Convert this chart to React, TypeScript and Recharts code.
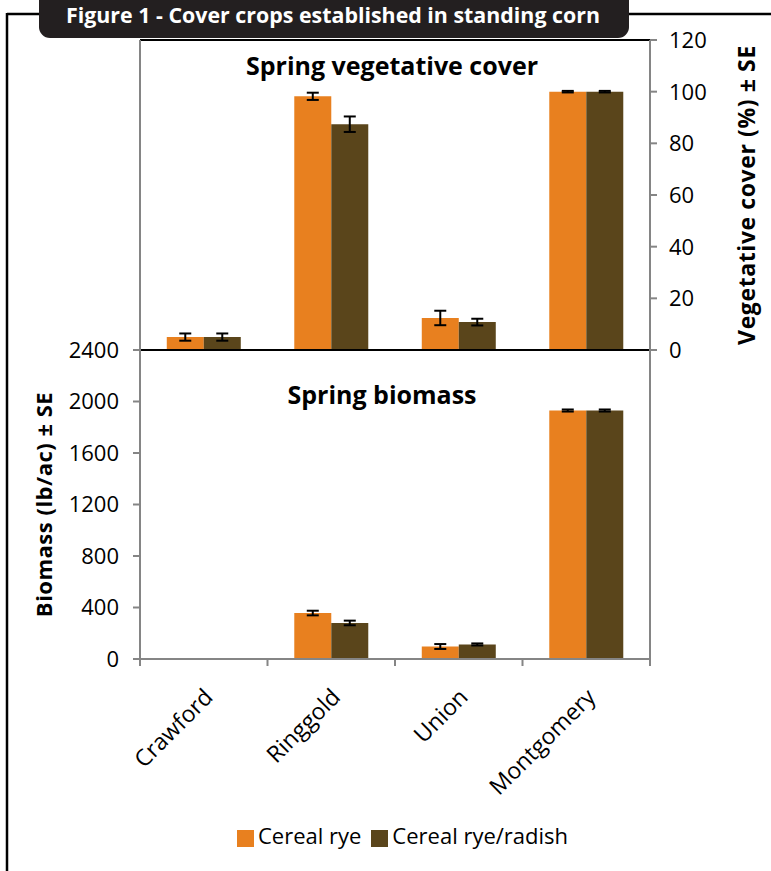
import React from "react";
import { BarChart, Bar, XAxis, YAxis, ErrorBar, Legend } from "recharts";

// Sites and cover crop results (spring after corn)
const sites = ["Crawford", "Ringgold", "Union", "Montgomery"];

const coverRye = [5, 98.2, 12.4, 100];
const coverRyeSE = [1.4, 1.4, 2.8, 0.3];
const coverMix = [5, 87.4, 10.8, 100];
const coverMixSE = [1.4, 3.0, 1.3, 0.3];

const biomassRye = [null, 357, 97, 1930];
const biomassRyeSE = [null, 18, 19, 8];
const biomassMix = [null, 280, 113, 1930];
const biomassMixSE = [null, 18, 8, 8];

const coverTicks = [0, 20, 40, 60, 80, 100, 120];
const biomassTicks = [0, 400, 800, 1200, 1600, 2000, 2400];

const seriesNames = ["Cereal rye", "Cereal rye/radish"];

const coverData = sites.map((site, i) => ({
  site,
  rye: coverRye[i],
  ryeSE: coverRyeSE[i],
  mix: coverMix[i],
  mixSE: coverMixSE[i],
}));

const biomassData = sites.map((site, i) => ({
  site,
  rye: biomassRye[i],
  ryeSE: biomassRyeSE[i],
  mix: biomassMix[i],
  mixSE: biomassMixSE[i],
}));

const ORANGE = "#E8801F";
const BROWN = "#5A451B";
const GRAY = "#858585";
const FONT = "'Open Sans', 'DejaVu Sans', sans-serif";

const TICK_LEN = 7;
const axisStroke = { stroke: GRAY, strokeWidth: 2 };
const titleStyle = { fontWeight: "bold", fill: "#000", fontFamily: FONT, textAnchor: "middle" } as const;

// y tick: short gray mark outside the axis line, optional label
const makeYTick = (side: "left" | "right", showLabel: boolean, margin: number) => (props: any) => {
  const { x, y, payload } = props;
  const x1 = side === "left" ? x + margin : x - margin - TICK_LEN;
  return (
    <g>
      <line x1={x1} y1={y} x2={x1 + TICK_LEN} y2={y} stroke={GRAY} strokeWidth={2} />
      {showLabel && (
        <text
          x={x}
          y={y}
          dy="0.36em"
          textAnchor={side === "left" ? "end" : "start"}
          fontSize={22}
          fontFamily={FONT}
          fill="#000"
        >
          {payload.value}
        </text>
      )}
    </g>
  );
};

// site label rotated 45deg, plus tick marks on the category boundaries
const SiteTick = (props: any) => {
  const { x, y, payload, index, visibleTicksCount } = props;
  const half = payload?.offset ?? 0;
  const axisY = y - 6;
  const last = index === visibleTicksCount - 1;
  return (
    <g>
      <line x1={x - half} y1={axisY} x2={x - half} y2={axisY + TICK_LEN} stroke={GRAY} strokeWidth={2} />
      {last && <line x1={x + half} y1={axisY} x2={x + half} y2={axisY + TICK_LEN} stroke={GRAY} strokeWidth={2} />}
      <g transform={`translate(${x - 1},${axisY + 28})`}>
        <text transform="rotate(-45)" textAnchor="end" dy="0.71em" fontSize={23} fontFamily={FONT} fill="#000">
          {payload.value}
        </text>
      </g>
    </g>
  );
};

const noLabel = () => <g />;

export default function App() {
  return (
    <div
      style={{
        position: "absolute",
        left: 0,
        top: 0,
        width: 771,
        height: 871,
        background: "#fff",
        fontFamily: FONT,
        overflow: "hidden",
      }}
    >
      {/* frame and figure tab */}
      <svg width={771} height={871} style={{ position: "absolute", left: 0, top: 0 }}>
        <line x1={7} y1={14} x2={771} y2={14} stroke="#000" strokeWidth={2.5} />
        <line x1={7} y1={13} x2={7} y2={871} stroke="#000" strokeWidth={2.5} />
        <rect x={39} y={-14} width={590} height={52} rx={11} fill="#231F20" />
        <text
          x={66}
          y={23}
          fill="#fff"
          fontSize={21}
          fontWeight="bold"
          fontFamily={FONT}
          textLength={534}
          lengthAdjust="spacingAndGlyphs"
        >
          Figure 1 - Cover crops established in standing corn
        </text>
        <text x={392} y={75} textAnchor="middle" fontSize={25} fontWeight="bold" fontFamily={FONT}>
          Spring vegetative cover
        </text>
        <text x={382} y={404} textAnchor="middle" fontSize={25} fontWeight="bold" fontFamily={FONT}>
          Spring biomass
        </text>
      </svg>

      {/* top panel: vegetative cover */}
      <div style={{ position: "absolute", left: 0, top: 0 }}>
        <BarChart
          width={771}
          height={372}
          data={coverData}
          margin={{ top: 39, right: 0, bottom: 21, left: 0 }}
          barCategoryGap="21%"
          barGap={0}
        >
          <XAxis
            xAxisId="top"
            orientation="top"
            dataKey="site"
            height={1}
            tick={noLabel}
            tickLine={false}
            axisLine={{ stroke: "#000", strokeWidth: 2 }}
          />
          <XAxis
            dataKey="site"
            height={1}
            tick={noLabel}
            tickLine={false}
            axisLine={{ stroke: "#000", strokeWidth: 2 }}
          />
          <YAxis
            yAxisId="left"
            orientation="left"
            width={140}
            domain={[0, 120]}
            ticks={coverTicks}
            interval={0}
            tickSize={TICK_LEN}
            tickMargin={14}
            tickLine={false}
            tick={makeYTick("left", false, 14)}
            axisLine={axisStroke}
          />
          <YAxis
            yAxisId="right"
            orientation="right"
            width={121}
            domain={[0, 120]}
            ticks={coverTicks}
            interval={0}
            tickSize={TICK_LEN}
            tickMargin={12}
            tickLine={false}
            tick={makeYTick("right", true, 12)}
            axisLine={axisStroke}
            label={{
              value: "Vegetative cover (%)  \u00B1 SE",
              angle: -90,
              position: "insideRight",
              offset: 24,
              style: { ...titleStyle, fontSize: 23, letterSpacing: 0.6 },
            }}
          />
          <Bar yAxisId="right" dataKey="rye" name={seriesNames[0]} fill={ORANGE} isAnimationActive={false}>
            <ErrorBar dataKey="ryeSE" width={6} stroke="#000" strokeWidth={2} direction="y" />
          </Bar>
          <Bar yAxisId="right" dataKey="mix" name={seriesNames[1]} fill={BROWN} isAnimationActive={false}>
            <ErrorBar dataKey="mixSE" width={6} stroke="#000" strokeWidth={2} direction="y" />
          </Bar>
        </BarChart>
      </div>

      {/* bottom panel: biomass */}
      <div style={{ position: "absolute", left: 0, top: 0 }}>
        <BarChart
          width={771}
          height={871}
          data={biomassData}
          margin={{ top: 350, right: 0, bottom: 82, left: 0 }}
          barCategoryGap="21%"
          barGap={0}
        >
          <XAxis
            dataKey="site"
            height={130}
            interval={0}
            tickSize={6}
            tickMargin={0}
            tickLine={false}
            axisLine={axisStroke}
            tick={<SiteTick />}
          />
          <YAxis
            yAxisId="left"
            orientation="left"
            width={140}
            domain={[0, 2400]}
            ticks={biomassTicks}
            interval={0}
            tickSize={TICK_LEN}
            tickMargin={14}
            tickLine={false}
            tick={makeYTick("left", true, 14)}
            axisLine={axisStroke}
            label={{
              value: "Biomass (lb/ac)  \u00B1 SE",
              angle: -90,
              position: "insideLeft",
              offset: 44,
              style: { ...titleStyle, fontSize: 22, letterSpacing: 0.5 },
            }}
          />
          <YAxis
            yAxisId="right"
            orientation="right"
            width={121}
            domain={[0, 2400]}
            ticks={biomassTicks}
            interval={0}
            tickSize={TICK_LEN}
            tickMargin={12}
            tickLine={false}
            tick={makeYTick("right", false, 12)}
            axisLine={axisStroke}
          />
          <Legend
            verticalAlign="middle"
            align="center"
            layout="horizontal"
            iconType="square"
            iconSize={17}
            wrapperStyle={{ top: 820, left: 22, width: 771, fontSize: 22, fontFamily: FONT }}
            formatter={(value) => <span style={{ color: "#000" }}>{value}</span>}
          />
          <Bar yAxisId="left" dataKey="rye" name={seriesNames[0]} fill={ORANGE} isAnimationActive={false}>
            <ErrorBar dataKey="ryeSE" width={6} stroke="#000" strokeWidth={2} direction="y" />
          </Bar>
          <Bar yAxisId="left" dataKey="mix" name={seriesNames[1]} fill={BROWN} isAnimationActive={false}>
            <ErrorBar dataKey="mixSE" width={6} stroke="#000" strokeWidth={2} direction="y" />
          </Bar>
        </BarChart>
      </div>
    </div>
  );
}
